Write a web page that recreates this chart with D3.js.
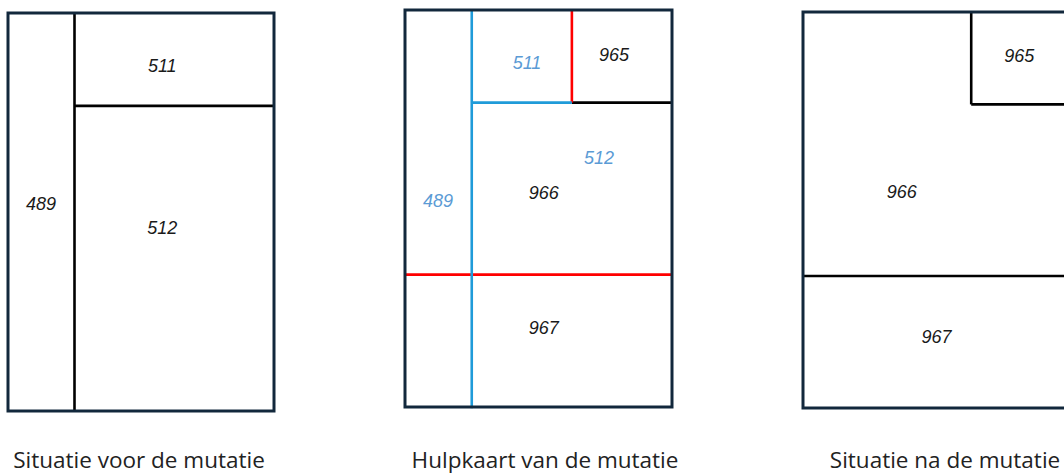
<!DOCTYPE html>
<html>
<head>
<meta charset="utf-8">
<script src="https://cdn.jsdelivr.net/npm/d3@7"></script>
<style>
  body { margin: 0; background: #fff; }
  svg { display: block; }
</style>
</head>
<body>
<svg id="chart" width="1064" height="475"></svg>
<script>
// parcel map units: 100 wide, 150 high
const panels = ['voor', 'hulp', 'na'];
const captions = ['Situatie voor de mutatie', 'Hulpkaart van de mutatie', 'Situatie na de mutatie'];

// boundary lines [x1, y1, x2, y2, kind]
const linesVoor = [
  [25, 0, 25, 150, 'old'],
  [25, 35, 100, 35, 'old']
];
const linesHulp = [
  [62.5, 35, 100, 35, 'old'],
  [0, 100, 100, 100, 'new'],
  [62.5, 0, 62.5, 35, 'new'],
  [25, 35, 62.5, 35, 'gone'],
  [25, 0, 25, 150.5, 'gone']
];
const linesNa = [
  [63, 0, 63, 35, 'old'],
  [63, 35, 100, 35, 'old'],
  [0, 100, 100, 100, 'old']
];

// parcel numbers [label, x, y, kind]
const labelsVoor = [
  ['511', 58, 20, 'old'],
  ['489', 12.4, 72, 'old'],
  ['512', 58, 81, 'old']
];
const labelsHulp = [
  ['511', 45.7, 20, 'gone'],
  ['965', 78.3, 17, 'old'],
  ['512', 72.7, 56, 'gone'],
  ['966', 52, 69, 'old'],
  ['489', 12.4, 72, 'gone'],
  ['967', 52, 120, 'old']
];
const labelsNa = [
  ['965', 81, 16.7, 'old'],
  ['966', 37, 68, 'old'],
  ['967', 50, 123, 'old']
];

const lineSets = [linesVoor, linesHulp, linesNa];
const labelSets = [labelsVoor, labelsHulp, labelsNa];

const boxes = [
  {x: 8, y: 13, w: 266, h: 398},
  {x: 405, y: 10, w: 267, h: 397},
  {x: 803, y: 12, w: 267, h: 396}
];

const lineColor = { old: '#000', new: '#ff0000', gone: '#1f9bd9' };
const textColor = { old: '#1a1a1a', gone: '#5b9bd5' };

const svg = d3.select('#chart');

panels.forEach((p, i) => {
  const b = boxes[i];
  const x = d3.scaleLinear().domain([0, 100]).range([b.x, b.x + b.w]);
  const y = d3.scaleLinear().domain([0, 150]).range([b.y, b.y + b.h]);

  const g = svg.append('g').attr('class', 'panel-' + p);

  g.selectAll('line')
    .data(lineSets[i])
    .enter()
    .append('line')
    .attr('x1', d => x(d[0]))
    .attr('y1', d => y(d[1]))
    .attr('x2', d => x(d[2]))
    .attr('y2', d => y(d[3]))
    .style('stroke', d => lineColor[d[4]])
    .style('stroke-width', 2.6);

  g.append('rect')
    .attr('x', x(0))
    .attr('y', y(0))
    .attr('width', x(100) - x(0))
    .attr('height', y(150) - y(0))
    .style('fill', 'none')
    .style('stroke', '#12283c')
    .style('stroke-width', 3);

  g.selectAll('text.nr')
    .data(labelSets[i])
    .enter()
    .append('text')
    .classed('nr', true)
    .attr('x', d => x(d[1]))
    .attr('y', d => y(d[2]))
    .attr('text-anchor', 'middle')
    .attr('dominant-baseline', 'central')
    .style('font-family', '"Liberation Sans", Arial, sans-serif')
    .style('font-style', 'italic')
    .style('font-size', '18px')
    .style('fill', d => textColor[d[3]])
    .text(d => d[0]);
});

const capX = [139, 545, 945];
svg.selectAll('text.cap')
  .data(captions)
  .enter()
  .append('text')
  .classed('cap', true)
  .attr('x', (d, i) => capX[i])
  .attr('y', 468)
  .attr('text-anchor', 'middle')
  .style('font-family', '"Open Sans", sans-serif')
  .style('font-size', '22.5px')
  .style('font-variant-ligatures', 'none')
  .style('fill', '#222')
  .text(d => d);
</script>
</body>
</html>
